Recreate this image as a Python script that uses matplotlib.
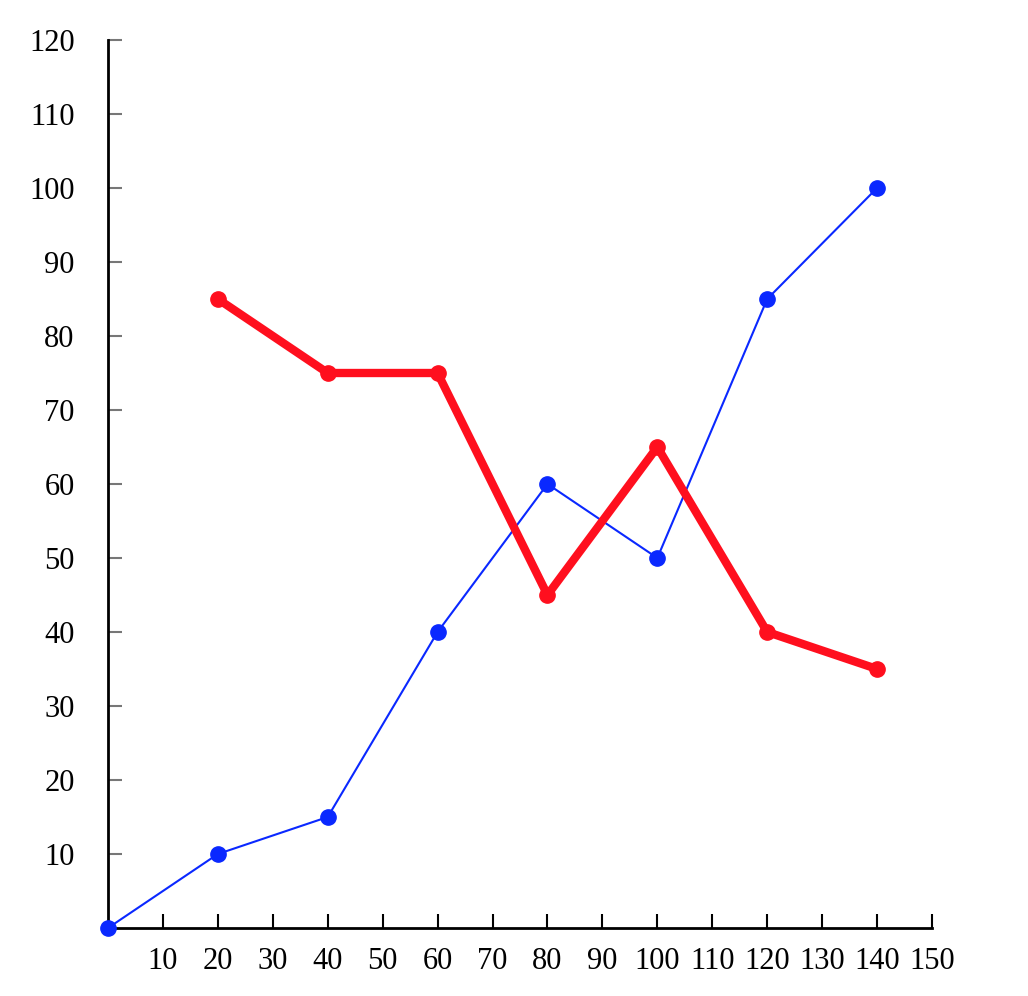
import matplotlib.pyplot as plt

x_blue = [0, 20, 40, 60, 80, 100, 120, 140]
y_blue = [0, 10, 15, 40, 60, 50, 85, 100]
x_red = [20, 40, 60, 80, 100, 120, 140]
y_red = [85, 75, 75, 45, 65, 40, 35]

x_ticks = list(range(10, 151, 10))
y_ticks = list(range(10, 121, 10))

plt.rcParams['font.family'] = ['Liberation Serif', 'DejaVu Serif']

fig = plt.figure(figsize=(10.28, 9.96), dpi=100)
ax = fig.add_axes([108 / 1028, 1 - 928 / 996, 824 / 1028, 888 / 996])

ax.plot(x_blue, y_blue, color='#0a28ff', lw=1.5, marker='o', ms=11, clip_on=False, zorder=3)
ax.plot(x_red, y_red, color='#ff0f1e', lw=6, marker='o', ms=11, clip_on=False, zorder=4)

ax.set_xlim(0, 150)
ax.set_ylim(0, 120)
ax.set_xticks(x_ticks)
ax.set_yticks(y_ticks)

for s in ['top', 'right']:
    ax.spines[s].set_visible(False)
for s in ['left', 'bottom']:
    ax.spines[s].set_linewidth(2)
    ax.spines[s].set_color('black')

ax.tick_params(axis='x', direction='in', length=10, width=1.5, color='black',
               labelsize=22, pad=14)
ax.tick_params(axis='y', direction='in', length=10, width=1.5, color='#777777',
               labelsize=22, pad=24)

fig.savefig('out.png', dpi=100)
